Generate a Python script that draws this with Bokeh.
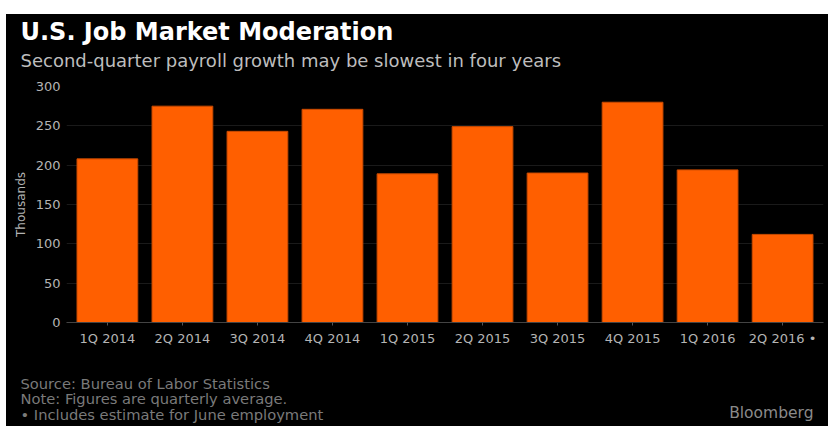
from bokeh.plotting import figure
from bokeh.models import FactorRange, Range1d, Label, ColumnDataSource, Spacer, FixedTicker
from bokeh.layouts import column, row
from bokeh.embed import file_html
from bokeh.resources import INLINE

quarters = ["1Q 2014", "2Q 2014", "3Q 2014", "4Q 2014", "1Q 2015",
            "2Q 2015", "3Q 2015", "4Q 2015", "1Q 2016", "2Q 2016 \u2022"]
payrolls = [208, 275, 243, 271, 189, 249, 190, 280, 194, 112]
y_ticks = [0, 50, 100, 150, 200, 250, 300]

title_text = "U.S. Job Market Moderation"
subtitle_text = "Second-quarter payroll growth may be slowest in four years"
notes = ["Source: Bureau of Labor Statistics",
         "Note: Figures are quarterly average.",
         "\u2022 Includes estimate for June employment"]
brand = "Bloomberg"

FONT = "DejaVu Sans"
ORANGE = "#ff5f00"
BG = "#000000"
W = 822


def blank(height):
    f = figure(width=W, height=height, x_range=Range1d(0, 1), y_range=Range1d(0, 1),
               x_axis_location=None, y_axis_location=None,
               output_backend="svg", toolbar_location=None,
               min_border=0, background_fill_color=BG, border_fill_color=BG)
    f.outline_line_color = None
    f.xgrid.visible = False
    f.ygrid.visible = False
    return f


# ---- header ----
head = blank(62)
head.add_layout(Label(x=14, y=45, x_units="screen", y_units="screen",
                      text=title_text, text_font=FONT, text_font_style="bold",
                      text_font_size="24px", text_color="#ffffff",
                      text_baseline="middle"))
head.add_layout(Label(x=14, y=16, x_units="screen", y_units="screen",
                      text=subtitle_text, text_font=FONT,
                      text_font_size="18px", text_color="#bdbdbd",
                      text_baseline="middle"))

# ---- main chart ----
source = ColumnDataSource(data=dict(q=quarters, v=payrolls))

p = figure(width=W, height=274,
           x_range=FactorRange(*quarters, range_padding=0.009),
           y_range=Range1d(0, 300),
           output_backend="svg", toolbar_location=None,
           min_border_left=60, min_border_right=5,
           min_border_top=10, min_border_bottom=28,
           background_fill_color=BG, border_fill_color=BG)
p.outline_line_color = None

p.vbar(x="q", top="v", width=0.81, source=source,
       fill_color=ORANGE, line_color="#c84a00", line_width=1)

p.xaxis.axis_line_color = "#444444"
p.xaxis.major_tick_line_color = "#555555"
p.xaxis.major_tick_out = 3
p.xaxis.major_tick_in = 0
p.xaxis.minor_tick_line_color = None
p.xaxis.major_label_text_color = "#b4b4b4"
p.xaxis.major_label_text_font = FONT
p.xaxis.major_label_text_font_size = "13px"
p.xaxis.major_label_standoff = 5

p.yaxis.ticker = FixedTicker(ticks=y_ticks)
p.yaxis.axis_line_color = None
p.yaxis.major_tick_line_color = None
p.yaxis.major_tick_out = 0
p.yaxis.major_tick_in = 0
p.yaxis.minor_tick_line_color = None
p.yaxis.major_label_text_color = "#b4b4b4"
p.yaxis.major_label_text_font = FONT
p.yaxis.major_label_text_font_size = "13px"
p.yaxis.major_label_standoff = 6
p.yaxis.axis_label = "Thousands"
p.yaxis.axis_label_text_font = FONT
p.yaxis.axis_label_text_font_style = "normal"
p.yaxis.axis_label_text_font_size = "12px"
p.yaxis.axis_label_text_color = "#b4b4b4"
p.yaxis.axis_label_standoff = 5

p.xgrid.grid_line_color = None
p.ygrid.grid_line_color = "#1a1a1a"
p.ygrid.grid_line_width = 1

# ---- footer ----
foot = blank(76)
for txt, yy in zip(notes, [43.5, 28, 12.5]):
    foot.add_layout(Label(x=14, y=yy, x_units="screen", y_units="screen",
                          text=txt, text_font=FONT, text_font_size="14.7px",
                          text_color="#7a7a7a", text_baseline="middle"))
foot.add_layout(Label(x=807, y=13.5, x_units="screen", y_units="screen",
                      text=brand, text_font=FONT, text_font_size="15.5px",
                      text_color="#8a8a8a", text_align="right",
                      text_baseline="middle"))

inner = column(row(Spacer(width=0, height=62), head, spacing=0),
               row(Spacer(width=0, height=274), p, spacing=0),
               row(Spacer(width=0, height=76), foot, spacing=0),
               spacing=0, styles={"background-color": "#000000"})

layout = column(Spacer(height=14, width=828),
                row(Spacer(width=6, height=412), inner, spacing=0),
                spacing=0)

open("out.html", "w").write(file_html(layout, INLINE))
